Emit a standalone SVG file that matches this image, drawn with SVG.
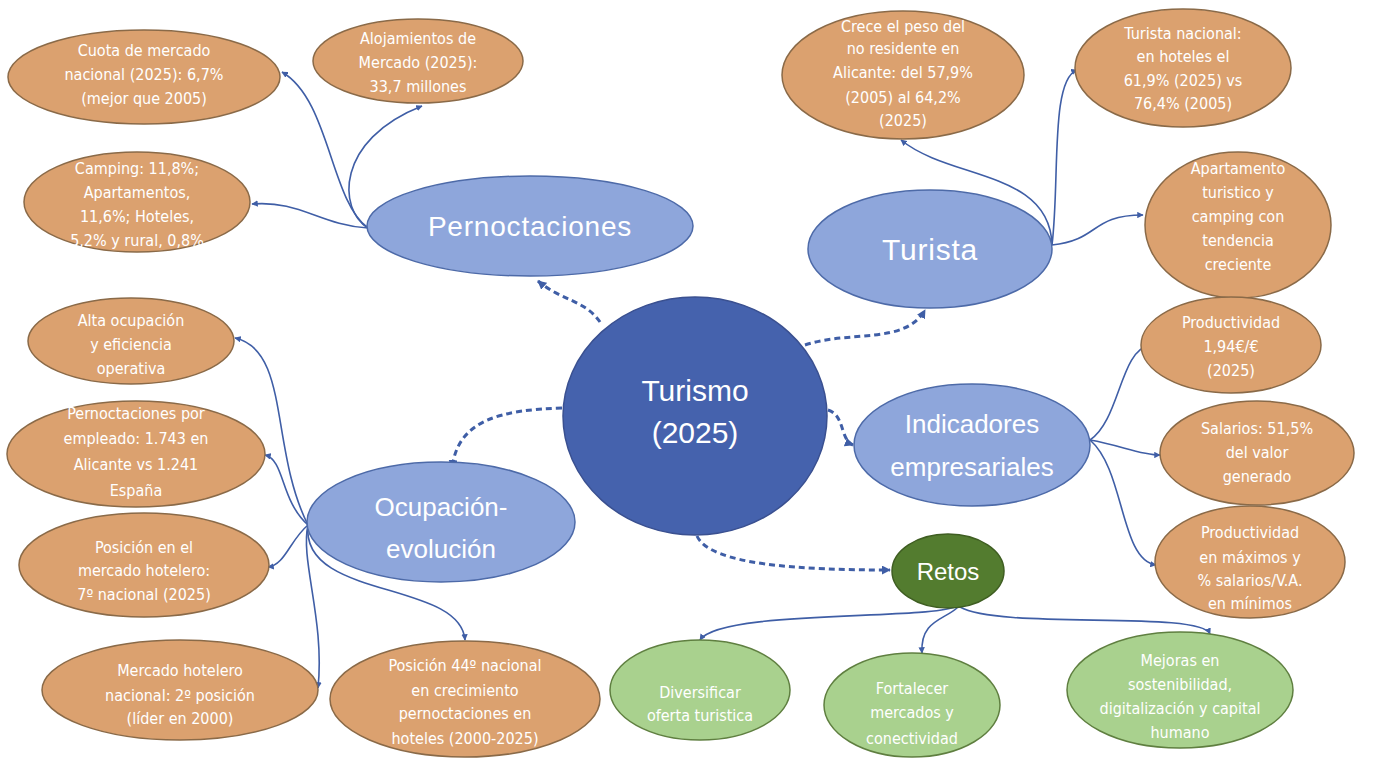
<svg xmlns="http://www.w3.org/2000/svg" width="1373" height="758" viewBox="0 0 1373 758">
<defs>
<marker id="ah" viewBox="0 0 10 10" refX="9" refY="5" markerWidth="4" markerHeight="4" orient="auto"><path d="M0,0 L10,5 L0,10 z" fill="#3f5ea6"/></marker>
<marker id="ahd" viewBox="0 0 10 10" refX="9" refY="5" markerWidth="3" markerHeight="3" orient="auto"><path d="M0,0 L10,5 L0,10 z" fill="#3f5ea6"/></marker>
<style>
.or{fill:#dba16f;stroke:#8a6a48;stroke-width:1.5}
.lb{fill:#8ea6db;stroke:#4d6aa8;stroke-width:1.5}
.db{fill:#4562ad;stroke:#3a5090;stroke-width:1.5}
.dg{fill:#537c2f;stroke:#3f5e22;stroke-width:1.5}
.lg{fill:#a9d18e;stroke:#5f7f40;stroke-width:1.5}
.t{font-family:"Liberation Sans Narrow","DejaVu Sans Condensed","Liberation Sans",sans-serif;font-size:16px;fill:#ffffff;text-anchor:middle}
.m{font-family:"Liberation Sans","DejaVu Sans",sans-serif;font-size:26px;fill:#ffffff;text-anchor:middle}
.c{fill:none;stroke:#3f5ea6;stroke-width:1.6;marker-end:url(#ah)}
.d{fill:none;stroke:#3f5ea6;stroke-width:3;stroke-dasharray:6,4;marker-end:url(#ahd)}
</style>
</defs>
<rect width="1373" height="758" fill="#ffffff"/>
<g id="connectors">
<path class="d" d="M600 322 C585 300,560 300,538 281"/>
<path class="d" d="M805 345 C850 330,905 345,925 310"/>
<path class="d" d="M828 410 C845 415,840 440,853 445"/>
<path class="d" d="M562 408 C500 410,458 420,452 468"/>
<path class="d" d="M697 536 C710 565,800 570,890 570"/>
<path class="c" d="M368 228 C330 200,330 100,282 72"/>
<path class="c" d="M368 228 C338 210,335 140,422 106"/>
<path class="c" d="M368 228 C320 225,300 200,252 204"/>
<path class="c" d="M1052 245 C1050 170,950 180,901 140"/>
<path class="c" d="M1052 245 C1060 180,1050 80,1077 70"/>
<path class="c" d="M1052 245 C1100 240,1090 215,1143 215"/>
<path class="c" d="M1090 440 C1120 420,1120 350,1150 345"/>
<path class="c" d="M1090 440 C1120 445,1140 455,1160 455"/>
<path class="c" d="M1090 440 C1125 470,1120 560,1156 565"/>
<path class="c" d="M308 525 C270 450,290 350,235 338"/>
<path class="c" d="M308 525 C280 500,285 460,265 455"/>
<path class="c" d="M308 525 C290 540,285 565,268 567"/>
<path class="c" d="M308 525 C300 560,325 620,318 688"/>
<path class="c" d="M308 525 C300 600,460 580,465 640"/>
<path class="c" d="M955 607 C920 620,720 610,700 640"/>
<path class="c" d="M958 607 C945 620,920 620,922 653"/>
<path class="c" d="M960 607 C1000 630,1200 610,1210 634"/>
</g>
<g id="turismo"><ellipse class="db" cx="695" cy="416" rx="132" ry="119"/><text class="m" style="font-size:30px" x="695" y="401">Turismo</text><text class="m" style="font-size:30px" x="695" y="443">(2025)</text></g>
<g id="pernoctaciones"><ellipse class="lb" cx="530" cy="226" rx="163" ry="50"/><text class="m" style="font-size:28px;letter-spacing:0.8px" x="530" y="236">Pernoctaciones</text></g>
<g id="turista"><ellipse class="lb" cx="930" cy="249" rx="122" ry="59"/><text class="m" style="font-size:30px;letter-spacing:0.8px" x="930" y="260">Turista</text></g>
<g id="indicadores"><ellipse class="lb" cx="972" cy="445" rx="118" ry="61"/><text class="m" x="972" y="433">Indicadores</text><text class="m" x="972" y="476">empresariales</text></g>
<g id="ocupacion"><ellipse class="lb" cx="441" cy="522" rx="134" ry="60"/><text class="m" x="441" y="516">Ocupación-</text><text class="m" x="441" y="558">evolución</text></g>
<g id="retos"><ellipse class="dg" cx="948" cy="571" rx="56" ry="37"/><text class="m" style="font-size:24px" x="948" y="580">Retos</text></g>
<g id="cuota"><ellipse class="or" cx="144" cy="77" rx="136" ry="47"/><text class="t"><tspan x="144" y="56">Cuota de mercado</tspan><tspan x="144" y="80">nacional (2025): 6,7%</tspan><tspan x="144" y="104">(mejor que 2005)</tspan></text></g>
<g id="alojamientos"><ellipse class="or" cx="418" cy="61" rx="105" ry="42"/><text class="t"><tspan x="418" y="44">Alojamientos de</tspan><tspan x="418" y="68">Mercado (2025):</tspan><tspan x="418" y="92">33,7 millones</tspan></text></g>
<g id="camping"><ellipse class="or" cx="137" cy="202" rx="113" ry="50"/><text class="t"><tspan x="137" y="174">Camping: 11,8%;</tspan><tspan x="137" y="198">Apartamentos,</tspan><tspan x="137" y="222">11,6%; Hoteles,</tspan><tspan x="137" y="246">5,2% y rural, 0,8%</tspan></text></g>
<g id="crece"><ellipse class="or" cx="903" cy="75" rx="121" ry="64"/><text class="t"><tspan x="903" y="32">Crece el peso del</tspan><tspan x="903" y="54">no residente en</tspan><tspan x="903" y="78">Alicante:  del 57,9%</tspan><tspan x="903" y="103">(2005) al 64,2%</tspan><tspan x="903" y="126">(2025)</tspan></text></g>
<g id="turista-nacional"><ellipse class="or" cx="1183" cy="68" rx="108" ry="59"/><text class="t"><tspan x="1183" y="39">Turista nacional:</tspan><tspan x="1183" y="62">en hoteles el</tspan><tspan x="1183" y="86">61,9% (2025) vs</tspan><tspan x="1183" y="109">76,4% (2005)</tspan></text></g>
<g id="apartamento"><ellipse class="or" cx="1238" cy="225" rx="93" ry="73"/><text class="t"><tspan x="1238" y="174">Apartamento</tspan><tspan x="1238" y="198">turistico y</tspan><tspan x="1238" y="222">camping con</tspan><tspan x="1238" y="246">tendencia</tspan><tspan x="1238" y="270">creciente</tspan></text></g>
<g id="alta"><ellipse class="or" cx="131" cy="341" rx="103" ry="43"/><text class="t"><tspan x="131" y="326">Alta ocupación</tspan><tspan x="131" y="350">y eficiencia</tspan><tspan x="131" y="374">operativa</tspan></text></g>
<g id="pernoct-empleado"><ellipse class="or" cx="136" cy="454" rx="129" ry="53"/><text class="t"><tspan x="136" y="419">Pernoctaciones por</tspan><tspan x="136" y="444">empleado: 1.743 en</tspan><tspan x="136" y="470">Alicante vs  1.241</tspan><tspan x="136" y="496">España</tspan></text></g>
<g id="posicion"><ellipse class="or" cx="144" cy="565" rx="125" ry="52"/><text class="t"><tspan x="144" y="553">Posición en el</tspan><tspan x="144" y="576">mercado hotelero:</tspan><tspan x="144" y="600">7º nacional (2025)</tspan></text></g>
<g id="mercado-hotelero"><ellipse class="or" cx="180" cy="690" rx="138" ry="50"/><text class="t"><tspan x="180" y="676">Mercado hotelero</tspan><tspan x="180" y="701">nacional: 2º posición</tspan><tspan x="180" y="724">(líder en 2000)</tspan></text></g>
<g id="posicion44"><ellipse class="or" cx="465" cy="699" rx="135" ry="58"/><text class="t"><tspan x="465" y="671">Posición 44º nacional</tspan><tspan x="465" y="696">en crecimiento</tspan><tspan x="465" y="719">pernoctaciones en</tspan><tspan x="465" y="744">hoteles (2000-2025)</tspan></text></g>
<g id="productividad"><ellipse class="or" cx="1231" cy="345" rx="90" ry="48"/><text class="t"><tspan x="1231" y="328">Productividad</tspan><tspan x="1231" y="352">1,94€/€</tspan><tspan x="1231" y="376">(2025)</tspan></text></g>
<g id="salarios"><ellipse class="or" cx="1257" cy="453" rx="97" ry="52"/><text class="t"><tspan x="1257" y="434">Salarios: 51,5%</tspan><tspan x="1257" y="458">del valor</tspan><tspan x="1257" y="482">generado</tspan></text></g>
<g id="productividad-max"><ellipse class="or" cx="1250" cy="562" rx="95" ry="56"/><text class="t"><tspan x="1250" y="538">Productividad</tspan><tspan x="1250" y="563">en máximos y</tspan><tspan x="1250" y="586">% salarios/V.A.</tspan><tspan x="1250" y="609">en mínimos</tspan></text></g>
<g id="diversificar"><ellipse class="lg" cx="700" cy="690" rx="90" ry="50"/><text class="t"><tspan x="700" y="698">Diversificar</tspan><tspan x="700" y="721">oferta turistica</tspan></text></g>
<g id="fortalecer"><ellipse class="lg" cx="912" cy="705" rx="88" ry="52"/><text class="t"><tspan x="912" y="694">Fortalecer</tspan><tspan x="912" y="718">mercados y</tspan><tspan x="912" y="744">conectividad</tspan></text></g>
<g id="mejoras"><ellipse class="lg" cx="1180" cy="690" rx="113" ry="58"/><text class="t"><tspan x="1180" y="666">Mejoras en</tspan><tspan x="1180" y="690">sostenibilidad,</tspan><tspan x="1180" y="714">digitalización y capital</tspan><tspan x="1180" y="738">humano</tspan></text></g>
</svg>
